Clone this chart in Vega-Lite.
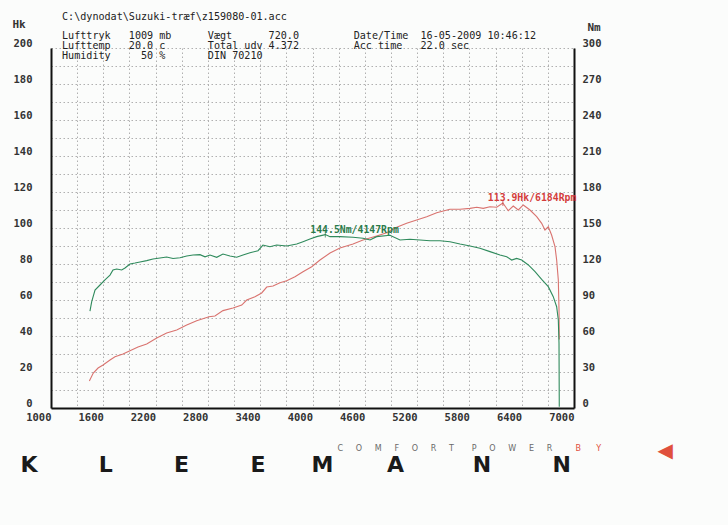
{
  "$schema": "https://vega.github.io/schema/vega-lite/v6.json",
  "width": 523,
  "height": 360,
  "autosize": {"type": "none"},
  "padding": {"left": 51, "top": 48, "right": 154, "bottom": 117},
  "background": "#fbfcfb",
  "title": {
    "text": "C:\\dynodat\\Suzuki-træf\\z159080-01.acc",
    "subtitle": [
      "Lufttryk\u00a0\u00a0\u00a01009\u00a0mb\u00a0\u00a0\u00a0\u00a0\u00a0\u00a0Vægt\u00a0\u00a0\u00a0\u00a0\u00a0\u00a0720.0\u00a0\u00a0\u00a0\u00a0\u00a0\u00a0\u00a0\u00a0\u00a0Date/Time\u00a0\u00a016-05-2009\u00a010:46:12",
      "Lufttemp\u00a0\u00a0\u00a020.0\u00a0c\u00a0\u00a0\u00a0\u00a0\u00a0\u00a0\u00a0Total\u00a0udv\u00a04.372\u00a0\u00a0\u00a0\u00a0\u00a0\u00a0\u00a0\u00a0\u00a0Acc\u00a0time\u00a0\u00a0\u00a022.0\u00a0sec",
      "Humidity\u00a0\u00a0\u00a0\u00a0\u00a050\u00a0%\u00a0\u00a0\u00a0\u00a0\u00a0\u00a0\u00a0DIN\u00a070210"
    ],
    "anchor": "start",
    "frame": "group",
    "dx": 11,
    "offset": -43,
    "font": "DejaVu Sans Mono",
    "fontSize": 10.1,
    "fontWeight": "normal",
    "color": "#222222",
    "subtitleFont": "DejaVu Sans Mono",
    "subtitleFontSize": 10.1,
    "subtitleColor": "#222222",
    "subtitleLineHeight": 10,
    "subtitlePadding": 9
  },
  "config": {
    "view": {"stroke": null},
    "axis": {
      "labelFont": "DejaVu Sans Mono",
      "labelFontSize": 10.5,
      "labelFontWeight": "bold",
      "labelColor": "#333333",
      "titleFont": "DejaVu Sans Mono",
      "titleFontSize": 11,
      "titleFontWeight": "bold",
      "titleColor": "#333333",
      "gridColor": "#b0b0b0",
      "gridDash": [1.5, 2.5],
      "gridWidth": 1,
      "labelOverlap": false,
      "labelFlush": false
    }
  },
  "datasets": {
    "power": [
      {"rpm": 1440, "hk": 15.0}, {"rpm": 1485, "hk": 19.4}, {"rpm": 1540, "hk": 22.2}, {"rpm": 1597, "hk": 23.9},
      {"rpm": 1677, "hk": 26.7}, {"rpm": 1734, "hk": 28.5}, {"rpm": 1826, "hk": 30.0}, {"rpm": 1906, "hk": 31.8},
      {"rpm": 1998, "hk": 33.9}, {"rpm": 2098, "hk": 35.6}, {"rpm": 2213, "hk": 38.9}, {"rpm": 2327, "hk": 41.7},
      {"rpm": 2442, "hk": 43.3}, {"rpm": 2557, "hk": 46.1}, {"rpm": 2671, "hk": 48.5}, {"rpm": 2813, "hk": 50.7},
      {"rpm": 2881, "hk": 51.1}, {"rpm": 2973, "hk": 54.1}, {"rpm": 3088, "hk": 55.6}, {"rpm": 3188, "hk": 57.2},
      {"rpm": 3245, "hk": 60.0}, {"rpm": 3340, "hk": 61.8}, {"rpm": 3417, "hk": 63.9}, {"rpm": 3475, "hk": 67.2},
      {"rpm": 3547, "hk": 67.8}, {"rpm": 3627, "hk": 69.6}, {"rpm": 3704, "hk": 70.7}, {"rpm": 3799, "hk": 72.9},
      {"rpm": 3891, "hk": 75.7}, {"rpm": 3991, "hk": 78.5}, {"rpm": 4086, "hk": 82.2}, {"rpm": 4201, "hk": 86.1},
      {"rpm": 4315, "hk": 88.9}, {"rpm": 4465, "hk": 91.1}, {"rpm": 4579, "hk": 93.3}, {"rpm": 4736, "hk": 95.6},
      {"rpm": 4851, "hk": 97.4}, {"rpm": 4966, "hk": 100.4}, {"rpm": 5080, "hk": 102.6}, {"rpm": 5195, "hk": 104.4},
      {"rpm": 5310, "hk": 106.3}, {"rpm": 5425, "hk": 108.5}, {"rpm": 5577, "hk": 110.4}, {"rpm": 5692, "hk": 110.4},
      {"rpm": 5807, "hk": 110.9}, {"rpm": 5884, "hk": 111.5}, {"rpm": 5959, "hk": 110.9}, {"rpm": 6036, "hk": 111.8},
      {"rpm": 6113, "hk": 111.5}, {"rpm": 6184, "hk": 113.9}, {"rpm": 6246, "hk": 109.6}, {"rpm": 6303, "hk": 112.2},
      {"rpm": 6361, "hk": 110.0}, {"rpm": 6418, "hk": 112.8}, {"rpm": 6495, "hk": 110.0}, {"rpm": 6572, "hk": 106.3},
      {"rpm": 6629, "hk": 102.6}, {"rpm": 6667, "hk": 98.9}, {"rpm": 6705, "hk": 100.7}, {"rpm": 6743, "hk": 96.1},
      {"rpm": 6782, "hk": 89.6}, {"rpm": 6801, "hk": 82.2}, {"rpm": 6820, "hk": 71.1}, {"rpm": 6828, "hk": 55.0},
      {"rpm": 6831, "hk": 38.0}
    ],
    "torque": [
      {"rpm": 1447, "nm": 80.8}, {"rpm": 1467, "nm": 88.6}, {"rpm": 1505, "nm": 98.3}, {"rpm": 1562, "nm": 102.5},
      {"rpm": 1619, "nm": 106.7}, {"rpm": 1677, "nm": 110.8}, {"rpm": 1711, "nm": 115.0}, {"rpm": 1754, "nm": 115.8},
      {"rpm": 1811, "nm": 115.0}, {"rpm": 1849, "nm": 116.7}, {"rpm": 1906, "nm": 120.0}, {"rpm": 1964, "nm": 120.8},
      {"rpm": 2021, "nm": 121.7}, {"rpm": 2098, "nm": 122.8}, {"rpm": 2170, "nm": 124.2}, {"rpm": 2250, "nm": 125.0},
      {"rpm": 2327, "nm": 125.8}, {"rpm": 2400, "nm": 124.6}, {"rpm": 2480, "nm": 125.2}, {"rpm": 2557, "nm": 126.7},
      {"rpm": 2629, "nm": 127.5}, {"rpm": 2709, "nm": 127.8}, {"rpm": 2767, "nm": 126.0}, {"rpm": 2824, "nm": 127.5},
      {"rpm": 2901, "nm": 125.6}, {"rpm": 2973, "nm": 128.3}, {"rpm": 3053, "nm": 126.7}, {"rpm": 3130, "nm": 125.6},
      {"rpm": 3203, "nm": 127.5}, {"rpm": 3283, "nm": 129.4}, {"rpm": 3375, "nm": 131.1}, {"rpm": 3432, "nm": 135.8},
      {"rpm": 3512, "nm": 134.4}, {"rpm": 3589, "nm": 135.8}, {"rpm": 3704, "nm": 135.0}, {"rpm": 3819, "nm": 136.7},
      {"rpm": 3891, "nm": 138.6}, {"rpm": 3971, "nm": 140.8}, {"rpm": 4048, "nm": 142.8}, {"rpm": 4147, "nm": 144.5},
      {"rpm": 4201, "nm": 142.8}, {"rpm": 4315, "nm": 142.8}, {"rpm": 4465, "nm": 142.3}, {"rpm": 4579, "nm": 141.4},
      {"rpm": 4660, "nm": 140.0}, {"rpm": 4736, "nm": 142.8}, {"rpm": 4889, "nm": 144.0}, {"rpm": 5004, "nm": 140.0},
      {"rpm": 5118, "nm": 140.6}, {"rpm": 5233, "nm": 140.0}, {"rpm": 5348, "nm": 139.4}, {"rpm": 5463, "nm": 139.4},
      {"rpm": 5577, "nm": 138.6}, {"rpm": 5692, "nm": 136.7}, {"rpm": 5807, "nm": 135.0}, {"rpm": 5921, "nm": 133.1},
      {"rpm": 6036, "nm": 130.3}, {"rpm": 6151, "nm": 127.5}, {"rpm": 6228, "nm": 126.1}, {"rpm": 6285, "nm": 123.3},
      {"rpm": 6342, "nm": 124.7}, {"rpm": 6400, "nm": 123.3}, {"rpm": 6476, "nm": 119.2}, {"rpm": 6553, "nm": 113.6},
      {"rpm": 6629, "nm": 107.2}, {"rpm": 6705, "nm": 101.1}, {"rpm": 6762, "nm": 92.8}, {"rpm": 6801, "nm": 84.4},
      {"rpm": 6820, "nm": 73.3}, {"rpm": 6828, "nm": 54.2}, {"rpm": 6831, "nm": 1.0}
    ],
    "ppeak": [{"rpm": 6184, "hk": 113.9, "label": "113.9Hk/6184Rpm"}],
    "tpeak": [{"rpm": 4147, "nm": 144.5, "label": "144.5Nm/4147Rpm"}]
  },
  "layer": [
    {
      "data": {"name": "power"},
      "mark": {"type": "line", "color": "#d9736f", "strokeWidth": 1.1},
      "encoding": {
        "x": {
          "field": "rpm", "type": "quantitative",
          "scale": {"domain": [1000, 7000], "nice": false, "zero": false},
          "axis": {
            "orient": "bottom",
            "values": [1000, 1300, 1600, 1900, 2200, 2500, 2800, 3100, 3400, 3700, 4000, 4300, 4600, 4900, 5200, 5500, 5800, 6100, 6400, 6700, 7000],
            "format": "d",
            "labelExpr": "(datum.value - 1000) % 600 == 0 ? datum.label : ''",
            "labelAlign": "right",
            "labelBaseline": "top",
            "labelPadding": 4,
            "ticks": false,
            "domainColor": "#111111",
            "domainWidth": 2,
            "grid": true,
            "title": "K\u00a0\u00a0\u00a0\u00a0\u00a0\u00a0\u00a0\u00a0L\u00a0\u00a0\u00a0\u00a0\u00a0\u00a0\u00a0\u00a0E\u00a0\u00a0\u00a0\u00a0\u00a0\u00a0\u00a0\u00a0E\u00a0\u00a0\u00a0\u00a0\u00a0\u00a0M\u00a0\u00a0\u00a0\u00a0\u00a0\u00a0\u00a0A\u00a0\u00a0\u00a0\u00a0\u00a0\u00a0\u00a0\u00a0\u00a0N\u00a0\u00a0\u00a0\u00a0\u00a0\u00a0\u00a0\u00a0N",
            "titleX": -31,
            "titleY": 56,
            "titleAlign": "left",
            "titleBaseline": "middle",
            "titleFont": "DejaVu Sans",
            "titleFontSize": 22,
            "titleFontWeight": "bold",
            "titleColor": "#1a1a1a"
          }
        },
        "y": {
          "field": "hk", "type": "quantitative",
          "scale": {"domain": [0, 200], "nice": false},
          "axis": {
            "orient": "left",
            "values": [0, 10, 20, 30, 40, 50, 60, 70, 80, 90, 100, 110, 120, 130, 140, 150, 160, 170, 180, 190, 200],
            "labelExpr": "datum.value % 20 == 0 ? datum.label : ''",
            "labelPadding": 19,
            "labelOffset": -5,
            "ticks": false,
            "domainColor": "#111111",
            "domainWidth": 2,
            "grid": true,
            "title": "Hk",
            "titleAngle": 0,
            "titleX": -39,
            "titleY": -24,
            "titleAlign": "left",
            "titleBaseline": "middle"
          }
        }
      }
    },
    {
      "data": {"name": "torque"},
      "encoding": {
        "x": {
          "field": "rpm", "type": "quantitative",
          "scale": {"domain": [1000, 7000], "nice": false, "zero": false},
          "axis": {
            "orient": "bottom",
            "labels": false, "ticks": false, "domain": false, "grid": false,
            "title": "C\u00a0\u00a0\u00a0\u00a0\u00a0O\u00a0\u00a0\u00a0\u00a0\u00a0M\u00a0\u00a0\u00a0\u00a0\u00a0F\u00a0\u00a0\u00a0\u00a0\u00a0O\u00a0\u00a0\u00a0\u00a0\u00a0R\u00a0\u00a0\u00a0\u00a0\u00a0T\u00a0\u00a0\u00a0\u00a0\u00a0\u00a0\u00a0P\u00a0\u00a0\u00a0\u00a0\u00a0O\u00a0\u00a0\u00a0\u00a0\u00a0W\u00a0\u00a0\u00a0\u00a0\u00a0E\u00a0\u00a0\u00a0\u00a0\u00a0R",
            "titleX": 286,
            "titleY": 40,
            "titleAlign": "left",
            "titleBaseline": "middle",
            "titleFont": "DejaVu Sans",
            "titleFontSize": 8,
            "titleFontWeight": "normal",
            "titleColor": "#6a6a6a"
          }
        },
        "y": {
          "field": "nm", "type": "quantitative",
          "scale": {"domain": [0, 300], "nice": false},
          "axis": {
            "orient": "right",
            "values": [0, 30, 60, 90, 120, 150, 180, 210, 240, 270, 300],
            "labelPadding": 8,
            "labelOffset": -5,
            "ticks": false,
            "domainColor": "#111111",
            "domainWidth": 2,
            "grid": false,
            "title": "Nm",
            "titleAngle": 0,
            "titleX": 13,
            "titleY": -21,
            "titleAlign": "left",
            "titleBaseline": "middle"
          }
        }
      },
      "layer": [
        {"mark": {"type": "line", "color": "#2f8a5c", "strokeWidth": 1.1}},
        {"data": {"name": "tpeak"}, "mark": {"type": "tick", "orient": "vertical", "size": 6, "thickness": 1, "color": "#2a7a4a"}},
        {"data": {"name": "tpeak"}, "mark": {"type": "text", "align": "left", "baseline": "middle", "dx": -15, "dy": -5, "font": "DejaVu Sans Mono", "fontSize": 9.8, "fontWeight": "bold", "color": "#2a7a4a"}, "encoding": {"text": {"field": "label"}}}
      ]
    },
    {
      "data": {"name": "ppeak"},
      "encoding": {
        "x": {
          "field": "rpm", "type": "quantitative",
          "scale": {"domain": [1000, 7000], "nice": false, "zero": false},
          "axis": {
            "orient": "bottom",
            "labels": false, "ticks": false, "domain": false, "grid": false,
            "title": "B\u00a0\u00a0\u00a0\u00a0\u00a0\u00a0Y",
            "titleX": 524,
            "titleY": 40,
            "titleAlign": "left",
            "titleBaseline": "middle",
            "titleFont": "DejaVu Sans",
            "titleFontSize": 8,
            "titleFontWeight": "normal",
            "titleColor": "#e0503c"
          }
        },
        "y": {
          "field": "hk", "type": "quantitative",
          "scale": {"domain": [0, 200], "nice": false},
          "axis": {
            "orient": "left",
            "labels": false, "ticks": false, "domain": false, "grid": false,
            "title": "◀",
            "titleAngle": 0,
            "titleX": 606,
            "titleY": 402,
            "titleAlign": "left",
            "titleBaseline": "middle",
            "titleFont": "DejaVu Sans",
            "titleFontSize": 20,
            "titleFontWeight": "normal",
            "titleColor": "#e0503c"
          }
        }
      },
      "layer": [
        {"mark": {"type": "tick", "orient": "vertical", "size": 6, "thickness": 1, "color": "#c43a3a"}},
        {"mark": {"type": "text", "align": "left", "baseline": "middle", "dx": -15, "dy": -5, "font": "DejaVu Sans Mono", "fontSize": 9.8, "fontWeight": "bold", "color": "#d43c3c"}, "encoding": {"text": {"field": "label"}}}
      ]
    }
  ],
  "resolve": {"scale": {"y": "independent"}, "axis": {"x": "independent", "y": "independent"}}
}
